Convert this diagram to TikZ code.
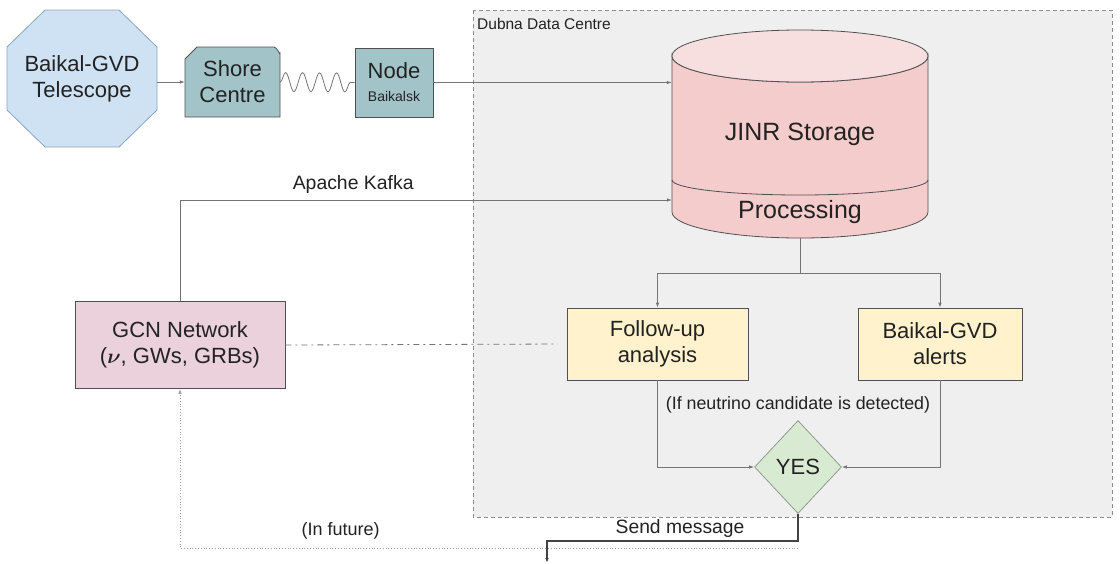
\documentclass[tikz,border=0pt]{standalone}
\usepackage{fontspec}
\usepackage{bm}
\setmainfont{Liberation Sans}
\usetikzlibrary{arrows.meta,shapes.geometric,decorations.pathmorphing}

\definecolor{telefill}{HTML}{CFE2F3}
\definecolor{teledraw}{HTML}{8AA4C2}
\definecolor{shorefill}{HTML}{A2C4C9}
\definecolor{boxdraw}{HTML}{505050}
\definecolor{cylfill}{HTML}{F4CCCC}
\definecolor{cyltop}{HTML}{F7DFDF}
\definecolor{regionfill}{HTML}{EFEFEF}
\definecolor{regiondraw}{HTML}{8C8C8C}
\definecolor{gcnfill}{HTML}{EAD1DC}
\definecolor{yellowfill}{HTML}{FFF2CC}
\definecolor{yesfill}{HTML}{D9EAD3}
\definecolor{yesdraw}{HTML}{8E9C8A}
\definecolor{linegray}{HTML}{747474}
\definecolor{textcol}{HTML}{222222}

\begin{document}
\begin{tikzpicture}[x=1pt, y=-1pt,
    txt/.style={text=textcol, align=center, inner sep=0pt},
    bigfont/.style={font=\fontsize{22}{26}\selectfont},
    box/.style={txt, bigfont, draw=boxdraw, line width=0.8pt},
    conn/.style={draw=linegray, line width=0.8pt, -{Latex[length=5pt,width=3.5pt]}},
    plain/.style={draw=linegray, line width=0.8pt}]

    \useasboundingbox (0,0) rectangle (1120,563);

    % Zone du centre de Dubna
    \draw[regiondraw, fill=regionfill, line width=0.7pt, dash pattern=on 4pt off 3pt]
        (473,10) rectangle (1112,517);
    \node[txt, anchor=west, font=\fontsize{15.5}{17}\selectfont] (dubna) at (477,24) {Dubna Data Centre};

    % Télescope (octogone)
    \draw[teledraw, fill=telefill, line width=0.8pt]
        (45,10) -- (119,10) -- (157,47) -- (157,110) -- (119,147) -- (45,147) -- (7,110) -- (7,47) -- cycle;
    \node[txt, bigfont, minimum width=150pt, minimum height=137pt] (telescope) at (82,78.5) {Baikal-GVD\\Telescope};

    % Shore Centre (coin coupé)
    \draw[boxdraw, fill=shorefill, line width=0.8pt]
        (185,117) -- (185,59) -- (197,47) -- (274,47) to[out=0,in=-90] (280,53) -- (280,117) -- cycle;
    \node[txt, bigfont, minimum width=95pt, minimum height=70pt] (shore) at (232.5,82) {Shore\\Centre};

    % Noeud Baikalsk
    \node[box, fill=shorefill, minimum width=78pt, minimum height=69pt] (baikalsk) at (394,82.5)
        {Node\\[-3pt]{\fontsize{14}{16}\selectfont Baikalsk}};

    % Stockage JINR (cylindre)
    \draw[boxdraw, fill=cylfill, line width=0.8pt]
        (672,56) -- (672,212) arc[start angle=180, end angle=0, x radius=128, y radius=26]
        -- (928,56) arc[start angle=0, end angle=180, x radius=128, y radius=26] -- cycle;
    \draw[boxdraw, fill=cyltop, line width=0.8pt] (800,56) ellipse [x radius=128, y radius=26];
    \draw[boxdraw, line width=0.8pt] (672,180) arc[start angle=180, end angle=0, x radius=128, y radius=15];
    \node[txt, font=\fontsize{25}{28}\selectfont, minimum width=256pt, minimum height=208pt] (store) at (800,134) {JINR Storage};
    \node[txt, font=\fontsize{25}{28}\selectfont] (proc) at (800,212) {Processing};

    % GCN et analyses
    \node[box, fill=gcnfill, minimum width=210pt, minimum height=87pt] (gcn) at (180,345)
        {GCN Network\\($\bm{\nu}$, GWs, GRBs)};
    \node[box, fill=yellowfill, minimum width=181pt, minimum height=72pt] (follow) at (657.5,344) {Follow-up\\analysis};
    \node[box, fill=yellowfill, minimum width=164pt, minimum height=72pt] (alerts) at (940,344) {Baikal-GVD\\alerts};
    \node[txt, font=\fontsize{17.8}{20}\selectfont] (cond) at (798,405) {(If neutrino candidate is detected)};
    \node[txt, bigfont, diamond, draw=yesdraw, fill=yesfill, line width=0.8pt,
          minimum width=87pt, minimum height=93pt] (yes) at (798,467) {YES};

    % Points de passage
    \coordinate (kafkain) at (672,200);
    \coordinate (split) at (800,273);
    \coordinate (sendturn) at (547,541);
    \coordinate (sendout) at (547,563);
    \coordinate (futurestart) at (798,548);

    % Liaisons
    \draw[conn] (telescope.east |- shore.west) -- (shore.west);
    \draw[linegray, line width=0.8pt, decorate, decoration={snake, amplitude=9.5pt, segment length=17pt}]
        (shore.east) -- (baikalsk.west);
    \draw[conn] (baikalsk.east) -- (baikalsk.east -| store.west);
    \draw[conn] (gcn.north) |- node[pos=0.676, above=6pt, txt, font=\fontsize{19.4}{22}\selectfont] (kafka) {Apache Kafka} (kafkain);
    \draw[plain] (store.south) -- (split);
    \draw[conn] (split) -| (follow.north);
    \draw[conn] (split) -| (alerts.north);
    \draw[linegray, line width=0.8pt, dash pattern=on 6pt off 4pt on 2pt off 4pt, shorten >=9pt] (gcn.east) -- (follow.west);
    \draw[conn] (follow.south) |- (yes.west);
    \draw[conn] (alerts.south) |- (yes.east);

    % Envoi du message
    \draw[draw=textcol!85, line width=1.1pt, -{Latex[length=5pt,width=3.5pt]}]
        (yes.south) |- node[pos=0.735, above=3pt, txt, font=\fontsize{19.3}{22}\selectfont] (send) {Send message} (sendturn) -- (sendout);
    \draw[linegray!70, line width=0.8pt, dotted, -{Latex[length=5pt,width=3.5pt]}]
        (futurestart) -| node[pos=0.37, above=8pt, txt, font=\fontsize{18}{21}\selectfont, text=textcol] (future) {(In future)} (gcn.south);

\end{tikzpicture}
\end{document}
